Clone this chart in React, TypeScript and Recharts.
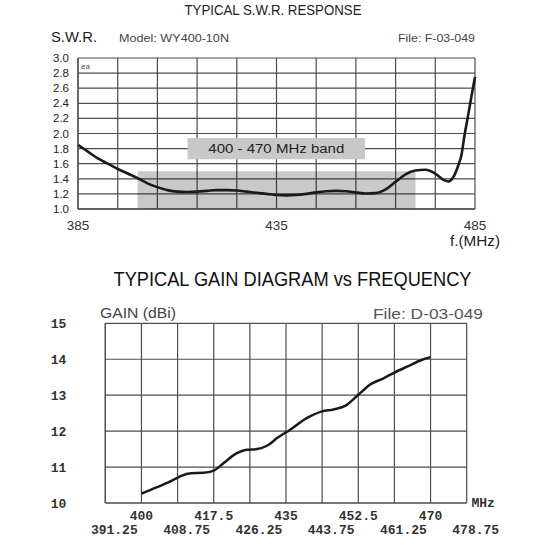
import React from 'react';
import { LineChart, Line, XAxis, YAxis, CartesianGrid, ReferenceArea } from 'recharts';

// ---- S.W.R. chart data ----
const swrFreq = [385, 387.5, 390, 392.5, 395, 397.5, 400, 402.5, 405, 407.5, 410, 412.5, 415, 417.5, 420, 422.5, 425, 427.5, 430, 432.5, 435, 437.5, 440, 442.5, 445, 447.5, 450, 452.5, 455, 457.5, 460, 462.5, 465, 467.5, 470, 472.5, 475, 477, 478.3, 479.5, 480.8, 481.6, 482.4, 483.3, 484.2, 485];
const swrValue = [1.85, 1.76, 1.67, 1.6, 1.53, 1.47, 1.41, 1.34, 1.29, 1.25, 1.23, 1.225, 1.23, 1.24, 1.25, 1.25, 1.245, 1.23, 1.215, 1.2, 1.185, 1.18, 1.185, 1.2, 1.22, 1.235, 1.24, 1.235, 1.22, 1.205, 1.21, 1.26, 1.36, 1.46, 1.51, 1.52, 1.47, 1.39, 1.365, 1.42, 1.58, 1.72, 1.99, 2.25, 2.52, 2.75];
const swrXTicks = [385, 395, 405, 415, 425, 435, 445, 455, 465, 475, 485];
const swrXLabels = [385, 435, 485];
const swrYTicks = [1.0, 1.2, 1.4, 1.6, 1.8, 2.0, 2.2, 2.4, 2.6, 2.8, 3.0];
const bandRange = [400, 470];
const bandTop = 1.5;
const bandLabel = '400 - 470 MHz band';
const bandLabelBox = { x1: 412.6, x2: 457.3, y1: 1.66, y2: 1.94 };

// ---- Gain chart data ----
const gainFreq = [400, 402.5, 405, 407.5, 409.5, 412, 415, 417.5, 420, 423, 425.5, 428, 430.5, 433, 436, 440, 443.75, 446.5, 449.3, 452.5, 455.3, 458.6, 461.25, 464.6, 467.8, 470];
const gainValue = [10.26, 10.38, 10.5, 10.63, 10.75, 10.83, 10.84, 10.9, 11.12, 11.38, 11.48, 11.5, 11.6, 11.82, 12.04, 12.36, 12.55, 12.6, 12.7, 13.01, 13.29, 13.47, 13.63, 13.81, 13.98, 14.06];
const gainXTicks = [391.25, 400, 408.75, 417.5, 426.25, 435, 443.75, 452.5, 461.25, 470, 478.75];
const gainYTicks = [10, 11, 12, 13, 14, 15];

const swrData = swrFreq.map((f, i) => ({ f, v: swrValue[i] }));
const gainData = gainFreq.map((f, i) => ({ f, v: gainValue[i] }));

const SANS = '"Liberation Sans", Arial, sans-serif';
const MONO = '"Liberation Mono", "DejaVu Sans Mono", monospace';
const GRID = '#4d4d4d';

const SwrXTick = (props: any) => {
  const { x, payload } = props;
  if (!swrXLabels.includes(payload.value)) return null;
  return (
    <text x={x} y={230} textAnchor="middle" fontFamily={SANS} fontSize={13.5} fill="#333">
      {payload.value}
    </text>
  );
};

const GainXTick = (props: any) => {
  const { x, payload, index } = props;
  const top = index % 2 === 1;
  return (
    <text
      x={top ? x : x + 9}
      y={top ? 270 : 284}
      textAnchor="middle"
      fontFamily={MONO}
      fontWeight="bold"
      fontSize={13}
      fill="#333"
    >
      {String(payload.value)}
    </text>
  );
};

const BandLabel = (props: any) => {
  const vb = props.viewBox || {};
  const cx = (vb.x || 0) + (vb.width || 0) / 2;
  const cy = (vb.y || 0) + (vb.height || 0) / 2;
  return (
    <text
      x={cx}
      y={cy}
      dy="0.36em"
      textAnchor="middle"
      fontFamily={SANS}
      fontSize={13.5}
      fill="#222"
      textLength={136}
      lengthAdjust="spacingAndGlyphs"
    >
      {bandLabel}
    </text>
  );
};

export default function App() {
  return (
    <div style={{ position: 'relative', width: 550, height: 545, background: '#fff' }}>
      <style>{'body{margin:0;}'}</style>
      <div style={{ position: 'absolute', left: 0, top: 0 }}>
        <LineChart width={550} height={250} data={swrData} margin={{ top: 58, right: 75, bottom: 11, left: 0 }}>
          <ReferenceArea
            x1={bandRange[0]}
            x2={bandRange[1]}
            y1={1.0}
            y2={bandTop}
            fill="#000"
            fillOpacity={0.21}
            stroke="none"
            ifOverflow="visible"
          />
          <CartesianGrid stroke={GRID} strokeWidth={1.2} />
          <ReferenceArea
            x1={bandLabelBox.x1}
            x2={bandLabelBox.x2}
            y1={bandLabelBox.y1}
            y2={bandLabelBox.y2}
            fill="#c8c8c8"
            fillOpacity={1}
            stroke="none"
            label={<BandLabel />}
          />
          <XAxis
            dataKey="f"
            type="number"
            domain={[385, 485]}
            ticks={swrXTicks}
            interval={0}
            height={30}
            tickSize={0}
            tickLine={false}
            axisLine={{ stroke: GRID, strokeWidth: 1.5 }}
            tick={<SwrXTick />}
          />
          <YAxis
            type="number"
            domain={[1, 3]}
            ticks={swrYTicks}
            interval={0}
            width={78}
            tickSize={0}
            tickMargin={9}
            tickLine={false}
            axisLine={{ stroke: GRID, strokeWidth: 1.2 }}
            tickFormatter={(v: number) => v.toFixed(1)}
            tick={{ fill: '#222', fontSize: 11.5, fontFamily: SANS }}
          />
          <Line type="monotone" dataKey="v" stroke="#1a1a1a" strokeWidth={2.6} dot={false} isAnimationActive={false} />
        </LineChart>
      </div>
      <div style={{ position: 'absolute', left: 0, top: 250 }}>
        <LineChart width={550} height={295} data={gainData} margin={{ top: 73.3, right: 83.3, bottom: 2, left: 0 }}>
          <CartesianGrid stroke={GRID} strokeWidth={1.2} />
          <XAxis
            dataKey="f"
            type="number"
            domain={[391.25, 478.75]}
            ticks={gainXTicks}
            interval={0}
            height={40}
            tickSize={0}
            tickLine={false}
            axisLine={{ stroke: GRID, strokeWidth: 1.2 }}
            tick={<GainXTick />}
          />
          <YAxis
            type="number"
            domain={[10, 15]}
            ticks={gainYTicks}
            interval={0}
            width={105.3}
            tickSize={0}
            tickMargin={39}
            tickLine={false}
            axisLine={{ stroke: GRID, strokeWidth: 1.2 }}
            tick={{ fill: '#333', fontSize: 13, fontFamily: MONO, fontWeight: 'bold' }}
          />
          <Line type="monotone" dataKey="v" stroke="#1a1a1a" strokeWidth={2.5} dot={false} isAnimationActive={false} />
        </LineChart>
      </div>
      <svg width={550} height={545} style={{ position: 'absolute', left: 0, top: 0, pointerEvents: 'none' }}>
        <text x={273} y={15} textAnchor="middle" fontFamily={SANS} fontSize={14.5} fill="#222" textLength={177} lengthAdjust="spacingAndGlyphs">
          TYPICAL S.W.R. RESPONSE
        </text>
        <text x={51} y={42} fontFamily={SANS} fontSize={14} fill="#222" textLength={46} lengthAdjust="spacingAndGlyphs">
          S.W.R.
        </text>
        <text x={119} y={41.5} fontFamily={SANS} fontSize={11} fill="#444" textLength={110} lengthAdjust="spacingAndGlyphs">
          Model:  WY400-10N
        </text>
        <text x={398} y={41.5} fontFamily={SANS} fontSize={11} fill="#444" textLength={77} lengthAdjust="spacingAndGlyphs">
          File:  F-03-049
        </text>
        <text x={81} y={69} fontFamily={SANS} fontSize={8} fill="#555">
          ea
        </text>
        <text x={475} y={246} textAnchor="middle" fontFamily={SANS} fontSize={14.5} fill="#222" textLength={50} lengthAdjust="spacingAndGlyphs">
          f.(MHz)
        </text>
        <text x={292.5} y={286} textAnchor="middle" fontFamily={SANS} fontSize={19.5} fill="#111" textLength={358} lengthAdjust="spacingAndGlyphs">
          TYPICAL GAIN DIAGRAM vs FREQUENCY
        </text>
        <text x={100} y={318} fontFamily={SANS} fontSize={15} fill="#444" textLength={76} lengthAdjust="spacingAndGlyphs">
          GAIN (dBi)
        </text>
        <text x={373} y={319} fontFamily={SANS} fontSize={15} fill="#555" textLength={110} lengthAdjust="spacingAndGlyphs">
          File:  D-03-049
        </text>
        <text x={471.5} y={507} fontFamily={MONO} fontWeight="bold" fontSize={13} fill="#333">
          MHz
        </text>
      </svg>
    </div>
  );
}
